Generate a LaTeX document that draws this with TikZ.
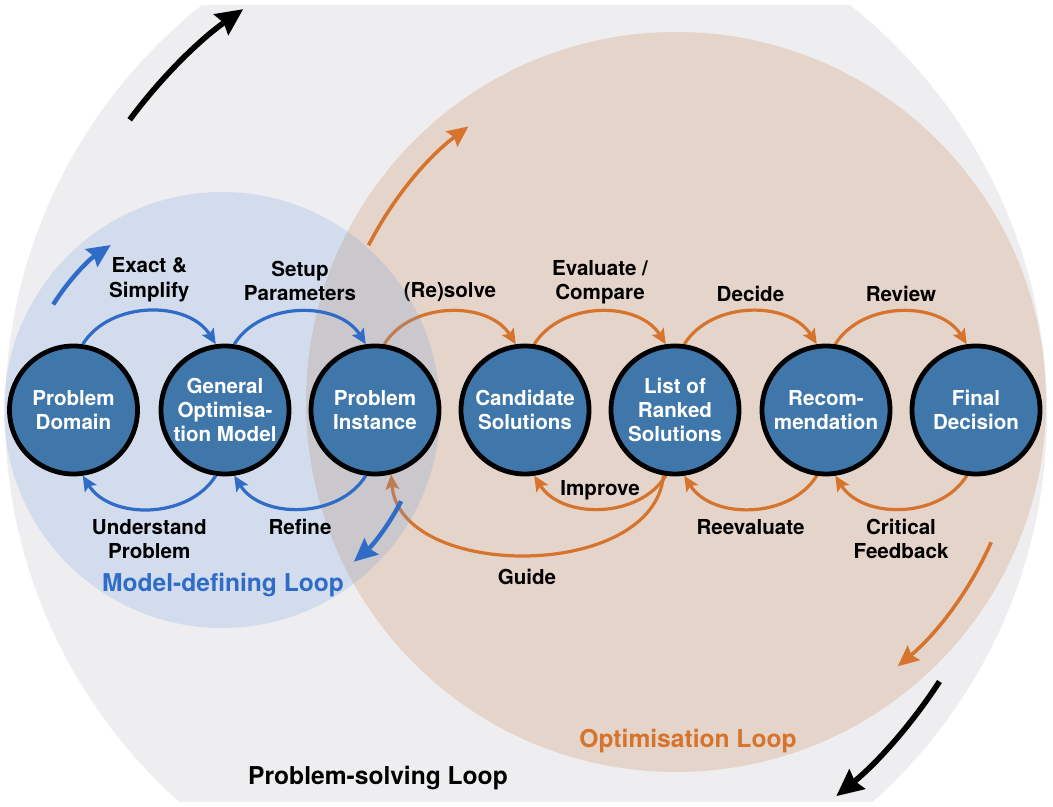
\documentclass[tikz,border=0pt]{standalone}
\usepackage{fontspec}
\setmainfont{TeX Gyre Heros}
\usetikzlibrary{arrows.meta}

\definecolor{loopgray}{RGB}{238,238,240}
\definecolor{modelblue}{RGB}{112,160,222}
\definecolor{optorange}{RGB}{211,155,113}
\definecolor{stateblue}{RGB}{64,119,170}
\definecolor{flowblue}{RGB}{47,108,200}
\definecolor{floworange}{RGB}{214,116,46}

\pgfdeclarelayer{back}
\pgfdeclarelayer{mid}
\pgfsetlayers{back,mid,main}

\tikzset{
  state/.style={circle,draw=black,line width=2.4pt,fill=stateblue,minimum size=64pt,
    inner sep=0pt,text=white,align=center},
  lbl/.style={align=center,inner sep=3pt},
  blueflow/.style={draw=flowblue,line width=1.6pt,-{Stealth[length=7.5pt,width=6.8pt,inset=1.5pt]}},
  orangeflow/.style={draw=floworange,line width=1.6pt,-{Stealth[length=7.5pt,width=6.8pt,inset=1.5pt]}},
  looparrow/.style={line width=#1,-{Stealth[length=5pt+3*#1,width=4pt+3*#1,inset=1.5pt]}},
  looptitle/.style={font=\bfseries\fontsize{12.3}{14}\selectfont}
}

\begin{document}
\begin{tikzpicture}[x=25pt,y=25pt,font=\bfseries\fontsize{10.3}{12.2}\selectfont]
  \useasboundingbox (0,0) rectangle (21.06,16.14);

  % centres of the three loops
  \coordinate (grayC)   at (10.52,7.88);
  \coordinate (orangeC) at (13.52,8.10);
  \coordinate (blueC)   at (4.44,7.94);

  % the seven states
  \node[state] (PD) at (1.47,7.94)  {Problem\\Domain};
  \node[state] (GM) at (4.50,7.94)  {General\\Optimisa-\\tion Model};
  \node[state] (PI) at (7.50,7.94)  {Problem\\Instance};
  \node[state] (CS) at (10.50,7.94) {Candidate\\Solutions};
  \node[state] (RS) at (13.50,7.94) {List of\\Ranked\\Solutions};
  \node[state] (RC) at (16.52,7.94) {Recom-\\mendation};
  \node[state] (FD) at (19.52,7.94) {Final\\Decision};

  % Problem-solving and Optimisation loop backgrounds
  \begin{pgfonlayer}{back}
    \begin{scope}
      \clip (0,0.1) rectangle (21.06,16.02);
      \fill[loopgray] (grayC) circle (10.42);
    \end{scope}
    \fill[optorange,fill opacity=.3] (orangeC) circle (7.4);
    % Optimisation loop
    \draw[orangeflow] (PI.82) to[bend left=58] node[lbl,midway,above=1pt] {(Re)solve} (CS.98);
    \draw[orangeflow] (CS.82) to[bend left=58] node[lbl,midway,above] {Evaluate /\\Compare} (RS.98);
    \draw[orangeflow] (RS.82) to[bend left=58] node[lbl,midway,above=1pt] {Decide} (RC.98);
    \draw[orangeflow] (RC.82) to[bend left=58] node[lbl,midway,above=1pt] {Review} (FD.98);
    \draw[orangeflow] (RS.-98) to[bend left=58] node[lbl,midway,above=.5pt] {Improve} (CS.-82);
    \draw[orangeflow] (RC.-98) to[bend left=58] node[lbl,midway,below=1.5pt] {Reevaluate} (RS.-82);
    \draw[orangeflow] (FD.-98) to[bend left=58] node[lbl,midway,below=1.5pt] {Critical\\Feedback} (RC.-82);
    \draw[orangeflow] (RS.-100) to[bend left=85] node[lbl,midway,below=3.5pt] {Guide} (PI.-76);
    \draw[floworange,looparrow=1.8pt] ([shift={(153:6.9)}]orangeC) arc[start angle=153,end angle=127,radius=6.9];
    \draw[floworange,looparrow=1.8pt] ([shift={(-24:6.9)}]orangeC) arc[start angle=-24,end angle=-50,radius=6.9];
  \end{pgfonlayer}

  % Model-defining loop background
  \begin{pgfonlayer}{mid}
    \fill[modelblue,fill opacity=.22] (blueC) circle (4.36);
  \end{pgfonlayer}

  % Model-defining loop
  \draw[blueflow] (PD.82) to[bend left=58] node[lbl,midway,above=1pt] {Exact \&\\Simplify} (GM.98);
  \draw[blueflow] (GM.82) to[bend left=58] node[lbl,midway,above=1.5pt] {Setup\\Parameters} (PI.98);
  \draw[blueflow] (GM.-98) to[bend left=58] node[lbl,midway,below=1.5pt] {Understand\\Problem} (PD.-82);
  \draw[blueflow] (PI.-98) to[bend left=58] node[lbl,midway,below=1.5pt] {Refine} (GM.-82);
  \draw[flowblue,looparrow=2.2pt] ([shift={(148:3.98)}]blueC) arc[start angle=148,end angle=124,radius=3.98];
  \draw[flowblue,looparrow=2.2pt] ([shift={(-27:4.02)}]blueC) arc[start angle=-27,end angle=-49,radius=4.02];

  % Problem-solving loop
  \draw[black,looparrow=2.8pt] ([shift={(143.5:9.86)}]grayC) arc[start angle=143.5,end angle=125,radius=9.86];
  \draw[black,looparrow=2.8pt] ([shift={(-33:9.86)}]grayC) arc[start angle=-33,end angle=-51,radius=9.86];

  % Loop titles
  \node[looptitle,text=flowblue]   (mdl) at (4.46,4.44)  {Model-defining Loop};
  \node[looptitle,text=floworange] (opl) at (13.76,1.32) {Optimisation Loop};
  \node[looptitle]                 (psl) at (7.56,0.58)  {Problem-solving Loop};
\end{tikzpicture}
\end{document}
